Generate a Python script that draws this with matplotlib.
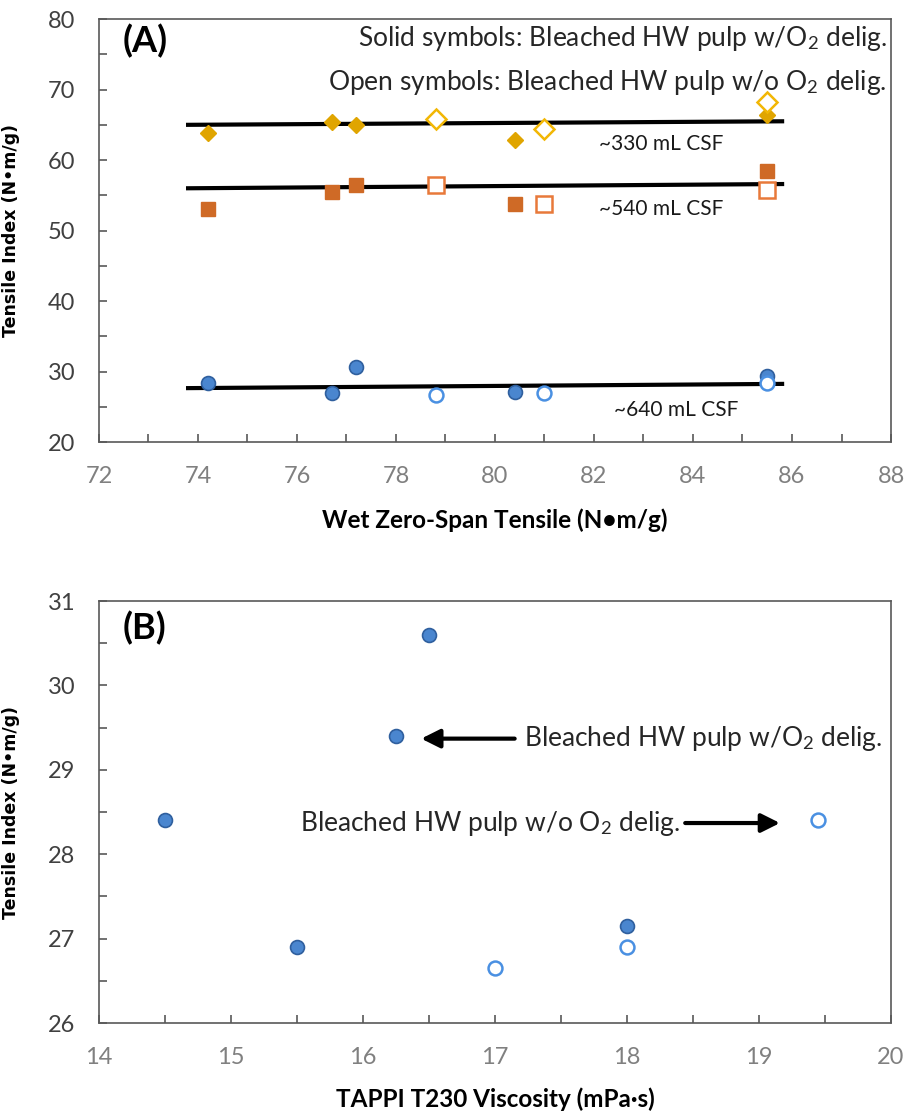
import matplotlib
matplotlib.use('Agg')
import matplotlib.pyplot as plt

plt.rcParams['font.family'] = ['Lato', 'DejaVu Sans']
plt.rcParams['mathtext.fontset'] = 'custom'
plt.rcParams['mathtext.rm'] = 'Lato'
plt.rcParams['mathtext.it'] = 'Lato:italic'
plt.rcParams['mathtext.bf'] = 'Lato:bold'

# samples: solid = w/ O2 delig., open = w/o O2 delig.
zero_span_solid = [74.2, 76.7, 77.2, 80.4, 85.5]
zero_span_open = [78.8, 81.0, 85.5]
visc_solid = [14.5, 15.5, 16.5, 18.0, 16.25]
visc_open = [17.0, 18.0, 19.45]

ti640_solid = [28.4, 26.9, 30.6, 27.15, 29.4]
ti640_open = [26.65, 26.9, 28.4]
ti540_solid = [53.0, 55.5, 56.4, 53.7, 58.4]
ti540_open = [56.4, 53.7, 55.8]
ti330_solid = [63.9, 65.4, 65.0, 62.9, 66.4]
ti330_open = [65.8, 64.4, 68.2]

# trend lines
trend_x = [73.8, 85.8]
trend_330 = [65.0, 65.5]
trend_540 = [56.0, 56.6]
trend_640 = [27.65, 28.25]

blue, blue_edge, blue_open = '#4A86CF', '#2F5F9E', '#4A90E2'
gold, gold_open = '#E0A500', '#F2B705'
orange, orange_open = '#CF6A26', '#E8793A'
txt = '#262626'

fig = plt.figure(figsize=(9.09, 11.16), dpi=100)
axA = fig.add_axes([0.1089, 0.6039, 0.8713, 0.3790])
axB = fig.add_axes([0.1089, 0.0833, 0.8713, 0.3781])

for ax in (axA, axB):
    for s in ax.spines.values():
        s.set_color('#595959')
        s.set_linewidth(1.2)
    ax.tick_params(which='both', direction='in', length=6, width=1.2, color='#595959', pad=17)
    ax.tick_params(axis='y', labelsize=17, labelcolor='#404040')
    ax.tick_params(axis='x', labelsize=17, labelcolor='#808080')

# ---- panel A
for ty in (trend_330, trend_540, trend_640):
    axA.plot(trend_x, ty, color='black', lw=3, zorder=2)

axA.plot(zero_span_solid, ti330_solid, 'D', ms=8, color=gold, mec=gold, ls='none', zorder=3)
axA.plot(zero_span_open, ti330_open, 'D', ms=10, mfc='white', mec=gold_open, mew=1.8, ls='none', zorder=3)
axA.plot(zero_span_solid, ti540_solid, 's', ms=10, color=orange, mec=orange, ls='none', zorder=3)
axA.plot(zero_span_open, ti540_open, 's', ms=11, mfc='white', mec=orange_open, mew=1.8, ls='none', zorder=3)
axA.plot(zero_span_solid, ti640_solid, 'o', ms=10, color=blue, mec=blue_edge, mew=1.2, ls='none', zorder=3)
axA.plot(zero_span_open, ti640_open, 'o', ms=10, mfc='white', mec=blue_open, mew=1.8, ls='none', zorder=3)

axA.set_xlim(72, 88)
axA.set_ylim(20, 80)
axA.set_xticks(range(72, 89, 2))
axA.set_xticks(range(72, 89, 1), minor=True)
axA.set_yticks(range(20, 81, 10))
axA.set_yticks(range(20, 81, 5), minor=True)

axA.text(82.1, 62.3, '~330 mL CSF', fontsize=15, ha='left', va='center', color='#1a1a1a')
axA.text(82.1, 53.0, '~540 mL CSF', fontsize=15, ha='left', va='center', color='#1a1a1a')
axA.text(82.4, 24.5, '~640 mL CSF', fontsize=15, ha='left', va='center', color='#1a1a1a')

axA.text(0.995, 77.2, 'Solid symbols: Bleached HW pulp w/O$_2$ delig.', transform=axA.get_yaxis_transform(),
         fontsize=19, ha='right', va='center', color=txt)
axA.text(0.995, 71.0, 'Open symbols: Bleached HW pulp w/o O$_2$ delig.', transform=axA.get_yaxis_transform(),
         fontsize=19, ha='right', va='center', color=txt)
axA.text(0.058, 0.947, '(A)', transform=axA.transAxes, fontsize=26, fontweight='bold', ha='center', va='center')

axA.set_xlabel('Wet Zero-Span Tensile (N\u2022m/g)', fontsize=17.5, fontweight='bold')
axA.set_ylabel('Tensile Index (N\u2022m/g)', fontsize=12.5, fontweight='bold', family='DejaVu Sans')
axA.xaxis.set_label_coords(0.5, -0.158)
axA.yaxis.set_label_coords(-0.100, 0.5)

# ---- panel B
axB.plot(visc_solid, ti640_solid, 'o', ms=10, color=blue, mec=blue_edge, mew=1.2, ls='none', zorder=3)
axB.plot(visc_open, ti640_open, 'o', ms=10, mfc='white', mec=blue_open, mew=1.8, ls='none', zorder=3)

axB.set_xlim(14, 20)
axB.set_ylim(26, 31)
axB.set_xticks(range(14, 21))
axB.set_xticks([14 + 0.5 * i for i in range(13)], minor=True)
axB.set_yticks(range(26, 32))
axB.set_yticks([26 + 0.5 * i for i in range(11)], minor=True)

axB.annotate('', xy=(16.42, 29.37), xytext=(17.17, 29.37),
             arrowprops=dict(arrowstyle='-|>', lw=3, color='black', mutation_scale=28))
axB.text(17.22, 29.37, 'Bleached HW pulp w/O$_2$ delig.', fontsize=19, ha='left', va='center', color=txt)
axB.annotate('', xy=(19.18, 28.37), xytext=(18.42, 28.37),
             arrowprops=dict(arrowstyle='-|>', lw=3, color='black', mutation_scale=28))
axB.text(18.40, 28.37, 'Bleached HW pulp w/o O$_2$ delig.', fontsize=19, ha='right', va='center', color=txt)
axB.text(0.058, 0.935, '(B)', transform=axB.transAxes, fontsize=26, fontweight='bold', ha='center', va='center')

axB.set_xlabel('TAPPI T230 Viscosity (mPa\u00b7s)', fontsize=17.5, fontweight='bold')
axB.set_ylabel('Tensile Index (N\u2022m/g)', fontsize=12.5, fontweight='bold', family='DejaVu Sans')
axB.xaxis.set_label_coords(0.5, -0.153)
axB.yaxis.set_label_coords(-0.100, 0.5)

fig.savefig('out.png', dpi=100)
